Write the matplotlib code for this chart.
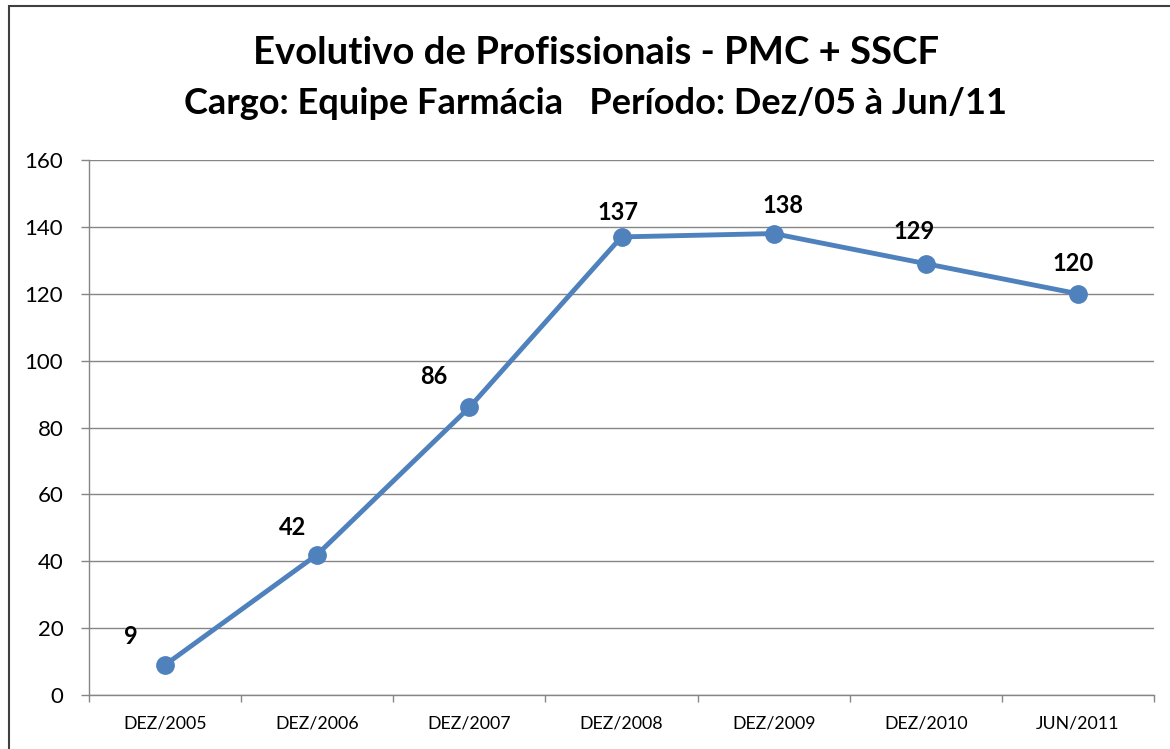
import matplotlib
matplotlib.use("Agg")
import matplotlib.pyplot as plt
from matplotlib.patches import Rectangle

categories = ["DEZ/2005", "DEZ/2006", "DEZ/2007", "DEZ/2008", "DEZ/2009", "DEZ/2010", "JUN/2011"]
values = [9, 42, 86, 137, 138, 129, 120]
yticks = [0, 20, 40, 60, 80, 100, 120, 140, 160]
title1 = "Evolutivo de Profissionais - PMC + SSCF"
title2 = "Cargo: Equipe Farmácia   Período: Dez/05 à Jun/11"

# label offsets in points (style only)
label_offsets = [(-24.8, 20.5), (-17.6, 19.5), (-25.6, 22), (-2.5, 17.5), (6.5, 20), (-8.3, 23), (-3.2, 21.5)]

plt.rcParams['font.family'] = ['Lato', 'DejaVu Sans']

W, H = 1170, 749
fig = plt.figure(figsize=(W / 100, H / 100), dpi=100)
fig.patch.set_facecolor("white")

# outer frame
fig.add_artist(Rectangle((9 / W, -0.05), 1.2, (H - 6) / H + 0.05, transform=fig.transFigure,
                         fill=False, edgecolor="#404040", linewidth=1.5))

ax = fig.add_axes([89 / W, (H - 695) / H, (1154 - 89) / W, (695 - 160) / H])
x = list(range(len(categories)))
ax.plot(x, values, color="#4F81BD", linewidth=3.5, marker="o", markersize=12.5,
        markerfacecolor="#4F81BD", markeredgecolor="#4F81BD", zorder=3, clip_on=False)

for xi, v, off in zip(x, values, label_offsets):
    ax.annotate(str(v), (xi, v), xytext=off, textcoords="offset points",
                ha="center", va="center", fontsize=17, fontweight="bold", color="black")

ax.set_xlim(-0.5, len(categories) - 0.5)
ax.set_ylim(0, 160)
ax.set_yticks(yticks)
ax.set_yticklabels([str(t) for t in yticks], fontsize=16)
ax.set_xticks(x)
ax.set_xticklabels(categories, fontsize=12.8)
ax.set_xticks([i - 0.5 for i in range(len(categories) + 1)], minor=True)
ax.tick_params(axis="x", which="major", length=0, pad=15)
ax.tick_params(axis="x", which="minor", length=5, color="#868686", width=1)
ax.tick_params(axis="y", length=6, color="#868686", width=1, pad=12.5)
ax.yaxis.grid(True, color="#868686", linewidth=1)
ax.set_axisbelow(True)
for s in ["top", "right"]:
    ax.spines[s].set_visible(False)
for s in ["left", "bottom"]:
    ax.spines[s].set_color("#868686")
    ax.spines[s].set_linewidth(1)

fig.text(596 / W, 1 - 53 / H, title1, ha="center", va="center", fontsize=27.5, fontweight="bold")
fig.text(596 / W, 1 - 104 / H, title2, ha="center", va="center", fontsize=26, fontweight="bold")

fig.savefig("out.png", dpi=100)
